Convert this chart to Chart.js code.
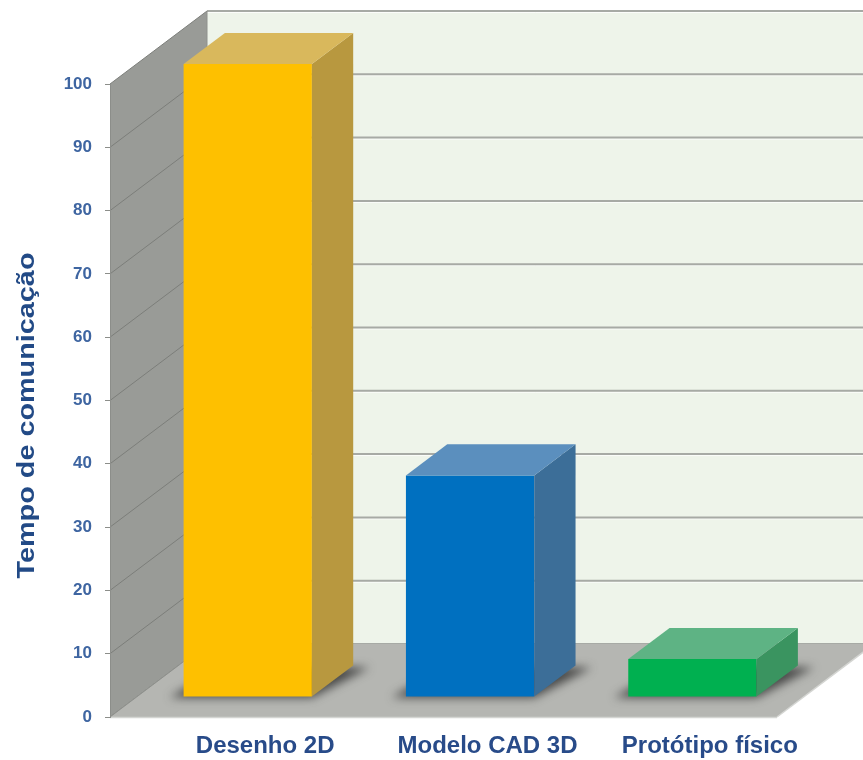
<!DOCTYPE html>
<html><head><meta charset="utf-8">
<script src="https://cdn.jsdelivr.net/npm/chart.js@4.4.0/dist/chart.umd.min.js"></script>
<style>html,body{margin:0;padding:0;background:#fff;}canvas{display:block;}</style>
</head><body>
<canvas id="c" width="863" height="760"></canvas>
<script>
// ---- data ----
const categories = ['Desenho 2D', 'Modelo CAD 3D', 'Protótipo físico'];
const values = [100, 35, 6];
const yTicks = [0, 10, 20, 30, 40, 50, 60, 70, 80, 90, 100];
const axisTitle = 'Tempo de comunicação';

// ---- styles ----
const frontColors = ['#FEC000', '#0070C0', '#00B050'];
const sideColors  = ['#B8983F', '#3C6E98', '#3A9460'];
const topColors   = ['#D9B85C', '#5B8FBE', '#5EB384'];

const DX = 97, DY = -73;      // full depth of the 3D box
const F0 = 0.274, F1 = 0.70;  // bar depth range (fraction of box depth)

Chart.defaults.font.family = "'Liberation Sans', Arial, sans-serif";

function poly(ctx, pts, fill, stroke, lw) {
  ctx.beginPath();
  ctx.moveTo(pts[0][0], pts[0][1]);
  for (let i = 1; i < pts.length; i++) ctx.lineTo(pts[i][0], pts[i][1]);
  ctx.closePath();
  if (fill) { ctx.fillStyle = fill; ctx.fill(); }
  if (stroke) { ctx.strokeStyle = stroke; ctx.lineWidth = lw || 1; ctx.stroke(); }
}
function line(ctx, x1, y1, x2, y2, c, lw) {
  ctx.beginPath(); ctx.moveTo(x1, y1); ctx.lineTo(x2, y2);
  ctx.strokeStyle = c; ctx.lineWidth = lw; ctx.stroke();
}

const box3d = {
  id: 'box3d',
  beforeDraw(chart) {
    const ctx = chart.ctx, ys = chart.scales.y, a = chart.chartArea;
    const L = a.left, R = a.right;
    const T = ys.getPixelForValue(ys.max), B = ys.getPixelForValue(ys.min);
    ctx.save();
    // back wall
    ctx.fillStyle = '#EEF4EA';
    ctx.fillRect(L + DX, T + DY, R - L, B - T);
    ys.ticks.forEach(t => {
      const py = ys.getPixelForValue(t.value) + DY;
      line(ctx, L + DX, py + 1.5, R + DX, py + 1.5, 'rgba(255,255,255,0.8)', 1);
      line(ctx, L + DX, py, R + DX, py, '#A7AAA5', 2);
    });
    // side wall
    poly(ctx, [[L, T], [L + DX, T + DY], [L + DX, B + DY], [L, B]], '#999B97');
    ys.ticks.forEach(t => {
      const py = ys.getPixelForValue(t.value);
      line(ctx, L, py, L + DX, py + DY, '#7C7E7A', 1);
    });
    line(ctx, L + DX, T + DY, L + DX, B + DY, '#8E908C', 1);
    // floor
    poly(ctx, [[L, B], [L + DX, B + DY], [R + DX, B + DY], [R, B]], '#B5B6B2');
    line(ctx, L, B + 0.5, R, B + 0.5, '#D4D5D2', 1.5);
    line(ctx, R, B, R + DX, B + DY, '#D4D5D2', 1.5);
    line(ctx, L, B, L + DX, B + DY, '#8E908C', 1);
    ctx.restore();
  },
  afterDatasetsDraw(chart) {
    const ctx = chart.ctx;
    const meta = chart.getDatasetMeta(0);
    const ddx = DX * (F1 - F0), ddy = DY * (F1 - F0);
    const geo = meta.data.map(bar => {
      const p = bar.getProps(['x', 'y', 'base', 'width'], true);
      return {
        x0: p.x - p.width / 2 + DX * F0, x1: p.x + p.width / 2 + DX * F0,
        yt: p.y + DY * F0, yb: p.base + DY * F0
      };
    });
    ctx.save();
    // shadows on the floor
    ctx.filter = 'blur(5px)';
    geo.forEach(g => {
      poly(ctx, [[g.x0 - 14, g.yb + 1], [g.x1, g.yb + 1], [g.x1 + ddx + 16, g.yb + ddy + 2], [g.x0 + ddx, g.yb + ddy]], 'rgba(45,45,45,0.8)');
    });
    ctx.filter = 'none';
    geo.forEach((g, i) => {
      poly(ctx, [[g.x0, g.yt], [g.x1, g.yt], [g.x1, g.yb], [g.x0, g.yb]], frontColors[i]);
      poly(ctx, [[g.x1, g.yt], [g.x1 + ddx, g.yt + ddy], [g.x1 + ddx, g.yb + ddy], [g.x1, g.yb]], sideColors[i]);
      poly(ctx, [[g.x0, g.yt], [g.x0 + ddx, g.yt + ddy], [g.x1 + ddx, g.yt + ddy], [g.x1, g.yt]], topColors[i]);
    });
    ctx.restore();
  },
  afterDraw(chart) {
    const ctx = chart.ctx, a = chart.chartArea;
    const t = chart.options.scales.y.title;
    ctx.save();
    ctx.translate(27, (a.top + a.bottom) / 2 + 15);
    ctx.rotate(-Math.PI / 2);
    ctx.scale(1.2, 1);
    ctx.font = "bold 24px 'Liberation Sans', Arial, sans-serif";
    ctx.fillStyle = '#224A86';
    ctx.textAlign = 'center';
    ctx.textBaseline = 'middle';
    ctx.fillText(t.text, 0, 0);
    ctx.restore();
  }
};

new Chart(document.getElementById('c'), {
  type: 'bar',
  data: {
    labels: categories,
    datasets: [{
      data: values,
      backgroundColor: 'rgba(0,0,0,0)',
      borderWidth: 0,
      barPercentage: 0.577,
      categoryPercentage: 1
    }]
  },
  options: {
    responsive: false,
    animation: false,
    layout: { padding: { top: 84, right: 86, bottom: 0, left: 0 } },
    plugins: { legend: { display: false }, tooltip: { enabled: false } },
    scales: {
      x: {
        grid: { display: false },
        border: { display: false },
        ticks: {
          color: '#284B89', padding: 7, labelOffset: 44, maxRotation: 0, autoSkip: false,
          font: { size: 24, weight: 'bold' }
        },
        afterFit(s) { s.height = 43; }
      },
      y: {
        min: 0, max: 100,
        afterBuildTicks(s) { s.ticks = yTicks.map(v => ({ value: v })); },
        ticks: { color: '#3E65A1', padding: 13, font: { size: 17, weight: 'bold' } },
        grid: { drawOnChartArea: false, drawTicks: true, tickLength: 5, color: '#8C8E8A' },
        border: { display: true, color: '#8C8E8A' },
        title: { display: false, text: axisTitle },
        afterFit(s) { s.width = 110; }
      }
    }
  },
  plugins: [box3d]
});
</script>
</body></html>
